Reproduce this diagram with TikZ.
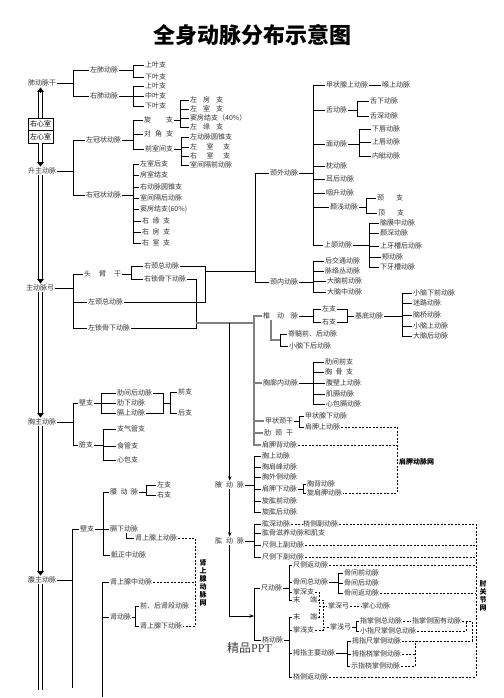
\documentclass[tikz,border=0pt]{standalone}
\usepackage{fontspec}
\setmainfont{Noto Sans CJK SC}
\newfontfamily\pptfont{Liberation Serif}
\usetikzlibrary{arrows.meta,calc}
\newcommand\fs{\fontsize{7}{8}\selectfont}
\newcommand\wbox[2]{\makebox[#1pt][s]{#2}}
\newcommand\tbr[4][]{\draw[ln,#1] (#2.east) -- (#2.east -| #3,0);\foreach \c in {#4}{\draw[ln,#1] (\c.west) -| (#2.east -| #3,0);}}
\newcommand\dardown[2]{\draw[dbl, shorten >=3pt] (#1) -- (#2); \draw[dtip] ($(#2)+(0,-4.5)$) -- (#2);}
\newcommand\darup[2]{\draw[dbl, shorten >=3pt] (#1) -- (#2); \draw[dtip] ($(#2)+(0,4.5)$) -- (#2);}
\begin{document}
\begin{tikzpicture}[x=1pt,y=-1pt,
  t/.style={font=\fs, anchor=west, inner sep=1pt, text=black!80},
  ln/.style={line width=0.6pt, draw=black},
  gl/.style={line width=1.1pt, draw=black!50},
  dl/.style={line width=0.6pt, draw=black, dash pattern=on 2pt off 1.5pt},
  ar/.style={line width=0.7pt, draw=black, -{Stealth[length=4.5pt,width=3.5pt]}},
  dbl/.style={double, double distance=2.8pt, line width=0.75pt},
  dtip/.style={line width=0.7pt, draw=black, -{Triangle[length=4.5pt,width=6.5pt]}},
  hb/.style={draw, line width=0.8pt, minimum width=25pt, minimum height=12.5pt, inner sep=0pt, font=\fs},
  lab/.style={font=\fontsize{7}{8}\selectfont\bfseries, align=center, inner sep=0pt, text=black}]
\useasboundingbox (0,0) rectangle (503,698);
\fill[white] (0,0) rectangle (503,698);

\node[font=\fontsize{22}{24}\selectfont\bfseries, text=black] (title) at (252,35) {全身动脉分布示意图};

% pulmonary
\node[t] (fdmg) at (27,83) {肺动脉干};
\node[t] (zfd) at (89,70) {左肺动脉};
\node[t] (yfd) at (89,96) {右肺动脉};
\node[t] (zf1) at (144,65) {上叶支};
\node[t] (zf2) at (144,77) {下叶支};
\node[t] (yf1) at (144,86) {上叶支};
\node[t] (yf2) at (144,96) {中叶支};
\node[t] (yf3) at (144,106) {下叶支};
\tbr{fdmg}{73}{zfd,yfd}
\tbr{zfd}{133}{zf1,zf2}
\tbr{yfd}{133}{yf1,yf2,yf3}

% heart
\node[hb] (rv) at (40.5,124.25) {右心室};
\node[hb] (lv) at (40.5,136.75) {左心室};

% ascending aorta
\node[t] (szdm) at (27,171) {升主动脉};
\node[t] (lgz) at (85,140) {左冠状动脉};
\node[t] (rgz) at (85,195) {右冠状动脉};
\tbr{szdm}{73}{lgz,rgz}
\node[t] (xz) at (143,120) {\wbox{29}{旋 支}};
\node[t] (djz) at (143,134) {\wbox{29}{对 角 支}};
\node[t] (qsj) at (144,149) {前室间支};
\tbr{lgz}{133}{xz,djz,qsj}
\node[t] (x1) at (189,100) {\wbox{33}{左 房 支}};
\node[t] (x2) at (189,109) {\wbox{33}{左 室 支}};
\node[t] (x3) at (189,118) {窦房结支（40\%）};
\node[t] (x4) at (189,127) {\wbox{33}{左 缘 支}};
\tbr{xz}{180}{x1,x2,x3,x4}
\node[t] (q1) at (189,137) {左动脉圆锥支};
\node[t] (q2) at (189,147) {\wbox{40}{左 室 支}};
\node[t] (q3) at (189,156) {\wbox{40}{右 室 支}};
\node[t] (q4) at (189,165) {室间隔前动脉};
\tbr{qsj}{181}{q1,q2,q3,q4}
\node[t] (r1) at (139,164) {左室后支};
\node[t] (r2) at (139,175) {房室结支};
\node[t] (r3) at (139,187) {右动脉圆锥支};
\node[t] (r4) at (139,198) {室间隔后动脉};
\node[t] (r5) at (139,209) {窦房结支(60\%)};
\node[t] (r6) at (141,221) {\wbox{28}{右 缘 支}};
\node[t] (r7) at (141,232) {\wbox{28}{右 房 支}};
\node[t] (r8) at (141,243) {\wbox{28}{右 室 支}};
\tbr{rgz}{133}{r1,r2,r3,r4,r5,r6,r7,r8}

% aortic arch
\node[t] (zdmg) at (25,288) {主动脉弓};
\node[t] (tbg) at (83,274) {\wbox{37}{头 臂 干}};
\node[t] (lzz) at (87,302) {左颈总动脉};
\node[t] (lsg) at (87,328) {左锁骨下动脉};
\tbr{zdmg}{73}{tbg,lzz,lsg}
\node[t] (rzz) at (143,266) {右颈总动脉};
\node[t] (rsg) at (143,279) {右锁骨下动脉};
\tbr{tbg}{131}{rzz,rsg}

% carotid
\coordinate (cca) at (205,271);
\coordinate (ccb) at (255,271);
\draw[ln] (rzz.east) -| (cca);
\draw[ln] (lzz.east) -| (cca);
\draw[ln] (cca) -- (ccb);
\node[t] (jwdm) at (269,173) {颈外动脉};
\node[t] (jndm) at (269,282) {颈内动脉};
\draw[ln] (jwdm.west) -| (ccb);
\draw[ln] (jndm.west) -| (ccb);

\node[t] (jzxs) at (325,85) {甲状腺上动脉};
\node[t] (hs) at (381,85) {喉上动脉};
\draw[ln] (jzxs.east) -- (hs.west);
\node[t] (sdm2) at (325,110) {舌动脉};
\node[t] (sxd) at (369,101) {舌下动脉};
\node[t] (ssd) at (369,116) {舌深动脉};
\tbr{sdm2}{357}{sxd,ssd}
\node[t] (mdm) at (325,144) {面动脉};
\node[t] (xcd) at (371,129) {下唇动脉};
\node[t] (scd) at (371,142) {上唇动脉};
\node[t] (nzd) at (371,156) {内眦动脉};
\tbr{mdm}{359}{xcd,scd,nzd}
\node[t] (zdm2) at (325,166) {枕动脉};
\node[t] (ehd) at (325,179) {耳后动脉};
\node[t] (ysd) at (325,193) {咽升动脉};
\node[t] (nqd) at (329,207) {颞浅动脉};
\node[t] (jz) at (376,198) {\wbox{26}{颈 支}};
\node[t] (dz) at (377,213) {\wbox{26}{顶 支}};
\tbr{nqd}{366}{jz,dz}
\node[t] (shd) at (323,245) {上颌动脉};
\node[t] (nmz) at (379,223) {脑膜中动脉};
\node[t] (nsd) at (379,233) {颞深动脉};
\node[t] (ycs) at (379,246) {上牙槽后动脉};
\node[t] (jd) at (381,257) {颊动脉};
\node[t] (xyc) at (379,267) {下牙槽动脉};
\tbr{shd}{369}{nmz,nsd,ycs,jd,xyc}
\tbr{jwdm}{313}{jzxs,sdm2,mdm,zdm2,ehd,ysd,nqd,shd}

\node[t] (hjt) at (324,261) {后交通动脉};
\node[t] (mlc) at (324,271) {脉络丛动脉};
\node[t] (dnq) at (326,281) {大脑前动脉};
\node[t] (dnz) at (326,292) {大脑中动脉};
\tbr{jndm}{313}{hjt,mlc,dnq,dnz}

% subclavian
\coordinate (sca) at (196,323);
\coordinate (scb) at (254,323);
\draw[ln] (rsg.east) -- (rsg.east -| sca) -- (lsg.east -| sca) -- (lsg.east);
\draw[gl] (sca) -- (scb);
\node[t] (zdm) at (262,316) {\wbox{35}{椎 动 脉}};
\node[t] (xknd) at (262,383) {胸廓内动脉};
\node[t] (jzjg) at (264,421) {甲状颈干};
\node[t] (ljg) at (263,433) {\wbox{29}{肋 颈 干}};
\node[t] (jjbd) at (261,445) {肩胛背动脉};
\foreach \c in {zdm,xknd,jzjg,ljg,jjbd} \draw[gl] (\c.west) -| (scb);

\node[t] (zz) at (321,309) {左支};
\node[t] (yz2) at (321,322) {右支};
\tbr{zdm}{313}{zz,yz2}
\coordinate (bj) at (347,316);
\draw[ln] (zz.east) -| (bj);
\draw[ln] (yz2.east) -| (bj);
\node[t] (jdd) at (354,316) {基底动脉};
\draw[ln] (bj) -- (jdd.west);
\node[t] (xnq) at (412,293) {小脑下前动脉};
\node[t] (mld) at (412,303) {迷路动脉};
\node[t] (nqd2) at (412,315) {脑桥动脉};
\node[t] (xns) at (412,326) {小脑上动脉};
\node[t] (dnh) at (412,336) {大脑后动脉};
\tbr{jdd}{402}{xnq,mld,nqd2,xns,dnh}
\coordinate (vb) at (280,340);
\draw[gl] (zdm.south -| 271,0) |- (vb);
\node[t] (jsq) at (287,334) {脊髓前、后动脉};
\node[t] (xnx) at (288,346) {小脑下后动脉};
\foreach \c in {jsq,xnx} \draw[ln] (\c.west) -| (vb);

\node[t] (ljq) at (324,362) {肋间前支};
\node[t] (xgz) at (324,372) {\wbox{28}{胸 骨 支}};
\node[t] (fbs) at (325,383) {腹壁上动脉};
\node[t] (jgd) at (325,394) {肌膈动脉};
\node[t] (xbg) at (325,404) {心包膈动脉};
\tbr{xknd}{313}{ljq,xgz,fbs,jgd,xbg}

\node[t] (jzxx) at (304,416) {甲状腺下动脉};
\node[t] (jjs) at (304,427) {肩胛上动脉};
\tbr{jzjg}{299}{jzxx,jjs}

% axillary
\node[t] (yadm) at (214,485) {\wbox{29}{腋 动 脉}};
\draw[ar] (yadm.north |- sca) -- (yadm.north);
\node[t] (xs) at (261,456) {胸上动脉};
\node[t] (xjf) at (261,467) {胸肩峰动脉};
\node[t] (xwc) at (261,477) {胸外侧动脉};
\node[t] (jjx) at (261,489) {肩胛下动脉};
\node[t] (xgq) at (261,501) {旋肱前动脉};
\node[t] (xgh) at (261,512) {旋肱后动脉};
\tbr{yadm}{254}{xs,xjf,xwc,jjx,xgq,xgh}
\node[t] (xb) at (306,484) {胸背动脉};
\node[t] (xjj) at (306,493) {旋肩胛动脉};
\tbr{jjx}{303}{xb,xjj}

\draw[dl] (jjs.east) -- (jjs.east -| 397,0) -- (xjj.east -| 397,0) -- (xjj.east);
\draw[dl] (jjbd.east) -- (jjbd.east -| 397,0);
\node[lab, anchor=west] (jjw) at (399,462) {肩胛动脉网};

% brachial
\node[t] (gdm) at (214,541) {\wbox{29}{肱 动 脉}};
\draw[ar] (yadm.south) -- (gdm.north);
\node[t] (gs) at (261,524) {肱深动脉};
\node[t] (gg) at (261,533) {肱骨滋养动脉和肌支};
\node[t] (csf) at (261,545) {尺侧上副动脉};
\node[t] (cxf) at (261,557) {尺侧下副动脉};
\tbr{gdm}{254}{gs,gg,csf,cxf}
\node[t] (nfd) at (302,524) {桡侧副动脉};
\draw[dl] (gs.east) -- (nfd.west);
\coordinate (ea) at (476,524);
\coordinate (eb) at (476,677);
\draw[dl] (nfd.east) -- (ea) -- (eb);
\draw[dl] (csf.east) -- (csf.east -| ea);
\draw[dl] (cxf.east) -- (cxf.east -| ea);
\node[lab] (zgj) at (483,596) {肘\\关\\节\\网};

% forearm
\coordinate (fb) at (254,616);
\draw[ar] (gdm.south) |- (fb);
\node[t] (cdm) at (260,588) {尺动脉};
\node[t] (ndm) at (261,640) {桡动脉};
\draw[ln] (cdm.west) -| (fb);
\draw[ln] (ndm.west) -| (fb);
\node[t] (cfh) at (292,565) {尺侧返动脉};
\node[t] (gjz) at (292,582) {骨间总动脉};
\node[t] (zsz) at (292,592) {掌深支};
\node[t] (md1) at (292,600) {\wbox{24}{末 端}};
\tbr{cdm}{289}{cfh,gjz,zsz,md1}
\node[t] (gq) at (343,573) {骨间前动脉};
\node[t] (gh) at (343,583) {骨间后动脉};
\node[t] (gf) at (343,593) {骨间返动脉};
\tbr{gjz}{338}{gq,gh,gf}
\draw[dl] (cfh.east) -- (cfh.east -| ea);
\draw[dl] (gf.east) -- (gf.east -| ea);

\node[t] (md2) at (292,617) {\wbox{24}{末 端}};
\node[t] (zqz) at (292,630) {掌浅支};
\node[t] (mzzy) at (292,653) {拇指主要动脉};
\node[t] (nfh) at (292,677) {桡侧返动脉};
\tbr{ndm}{289}{md2,zqz,mzzy,nfh}
\draw[dl] (nfh.east) -- (eb);
\node[t] (mc) at (351,641) {拇指尺掌侧动脉};
\node[t] (mn) at (351,654) {拇指桡掌侧动脉};
\node[t] (sn) at (350,666) {示指桡掌侧动脉};
\tbr{mzzy}{347}{mc,mn,sn}

\node[t] (zsg) at (327,606) {掌深弓};
\node[t] (zxd) at (361,606) {掌心动脉};
\draw[dl] (zsg.east) -- (zxd.west);
\coordinate (pa) at (319,606);
\draw[dl] (zsz.east) -| (pa);
\draw[dl] (md2.east) -| (pa);
\draw[dl] (pa) -- (zsg.west);
\node[t] (zqg) at (329,627) {掌浅弓};
\coordinate (pb) at (323,627);
\draw[dl] (md1.east) -| (pb);
\draw[dl] (zqz.east) -| (pb);
\draw[dl] (pb) -- (zqg.west);
\node[t] (zzc) at (359,621) {指掌侧总动脉};
\node[t] (xzc) at (359,631) {小指尺掌侧总动脉};
\tbr{zqg}{356}{zzc,xzc}
\node[t] (zzg) at (411,621) {指掌侧固有动脉};
\draw[dl] (zzc.east) -- (zzg.west);
\draw[dl] (zzg.east) -- (zzg.east -| 472,0) |- (mc.east);
\draw[dl] (xzc.east) -| (zzg.east -| 466,0);
\draw[dl] (mn.east) -- (mn.east -| 415,0);
\draw[dl] (sn.east) -| (mc.east -| 415,0);

\node[anchor=west, inner sep=0pt, font=\fontsize{12}{14}\selectfont, text=black!75] (jp) at (227,648) {精品{\pptfont PPT}};

% thoracic aorta
\node[t] (xzdm) at (27,422) {胸主动脉};
\node[t] (bz1) at (78,403) {壁支};
\node[t] (zz1) at (78,445) {脏支};
\tbr{xzdm}{73}{bz1,zz1}
\node[t] (ljh) at (116,393) {肋间后动脉};
\node[t] (lx) at (116,403) {肋下动脉};
\node[t] (gs2) at (116,413) {膈上动脉};
\tbr{bz1}{101}{ljh,lx,gs2}
\coordinate (lj) at (163,403);
\coordinate (lk) at (170,403);
\draw[ln] (ljh.east) -| (lj);
\draw[ln] (gs2.east) -| (lj);
\draw[ln] (lj) -- (lk);
\node[t] (qz) at (177,392) {前支};
\node[t] (hz) at (177,413) {后支};
\foreach \c in {qz,hz} \draw[ln] (\c.west) -| (lk);
\node[t] (zqg1) at (116,429) {支气管支};
\node[t] (sgz) at (116,446) {食管支};
\node[t] (xbz) at (116,460) {心包支};
\tbr{zz1}{103}{zqg1,sgz,xbz}

% abdominal aorta
\node[t] (fzdm) at (27,580) {腹主动脉};
\node[t] (bz2) at (79,529) {壁支};
\coordinate (fe) at (72,688);
\draw[ln] (fzdm.east) -- (fzdm.east -| fe);
\draw[ln] (bz2.west) -| (fe);
\node[t] (ydm) at (109,492) {\wbox{28}{腰 动 脉}};
\node[t] (gxd) at (109,529) {膈下动脉};
\node[t] (dzz) at (110,555) {骶正中动脉};
\tbr{bz2}{103}{ydm,gxd,dzz}
\node[t] (yz) at (156,485) {左支};
\node[t] (yy) at (156,495) {右支};
\tbr{ydm}{146}{yz,yy}
\node[t] (sxs) at (134,538) {肾上腺上动脉};
\draw[ln] (gxd.south -| 126,0) |- (sxs.west);
\node[t] (sxz) at (109,582) {肾上腺中动脉};
\node[t] (sdm) at (109,617) {肾动脉};
\coordinate (ve) at (102,697);
\foreach \c in {sxz,sdm} \draw[ln] (\c.west) -| (ve);
\node[t] (qhs) at (139,606) {前、后肾段动脉};
\node[t] (sxx) at (139,626) {肾上腺下动脉};
\tbr{sdm}{135}{qhs,sxx}
\coordinate (sa) at (195,538);
\draw[dl] (sxs.east) -- (sa) -- (sa |- sxx.east) -- (sxx.east);
\draw[dl] (sxz.east) -- (sxz.east -| sa);
\node[lab] (sxw) at (203,583) {肾\\上\\腺\\动\\脉\\网};

% double aorta line
\darup{rv.north}{rv.north |- fdmg.south}
\dardown{lv.south}{lv.south |- szdm.north}
\dardown{lv.south |- szdm.south}{lv.south |- zdmg.north}
\dardown{lv.south |- zdmg.south}{lv.south |- xzdm.north}
\dardown{lv.south |- xzdm.south}{lv.south |- fzdm.north}
\coordinate (dend) at (40.5,690);
\draw[dbl] (lv.south |- fzdm.south) -- (dend);
\end{tikzpicture}
\end{document}
